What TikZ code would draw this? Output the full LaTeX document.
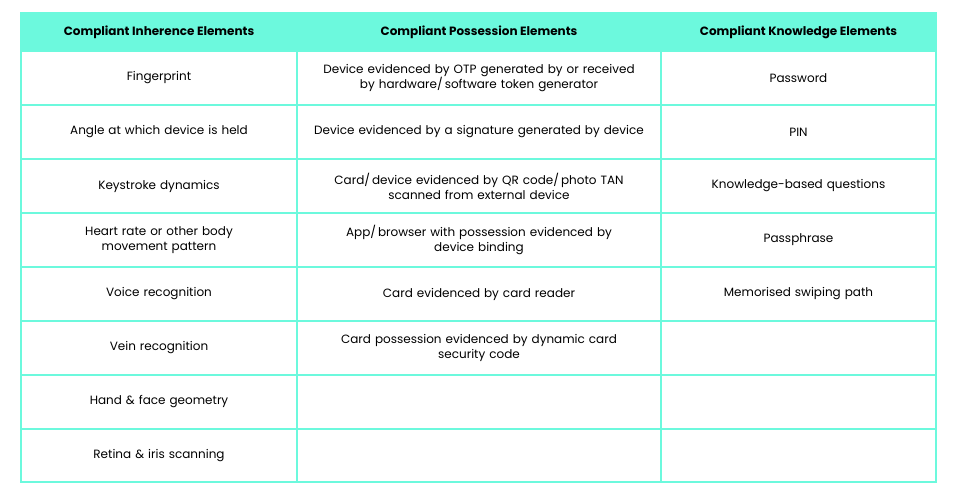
\documentclass[tikz,border=0pt]{standalone}
\usepackage{fontspec}
\setmainfont{Poppins}
\definecolor{aqua}{HTML}{6CF9DD}
\begin{document}
\begin{tikzpicture}[x=1pt,y=-1pt,
  cell/.style={align=center,font=\fontsize{12}{15}\selectfont,text width=#1},
  hd/.style={font=\fontsize{12}{15}\selectfont\bfseries}]
\useasboundingbox (0,0) rectangle (958,494);
\fill[white] (0,0) rectangle (958,494);
\fill[aqua] (21,13) rectangle (936,51);
\draw[aqua,line width=1.2pt] (21,13) rectangle (936,482);
\foreach \y in {51,105,159,213,267,321,375,429} \draw[aqua,line width=1.2pt] (21,\y) -- (936,\y);
\foreach \x in {297,661} \draw[aqua,line width=1.2pt] (\x,13) -- (\x,482);
\node[hd] (h1) at (159,32) {Compliant Inherence Elements};
\node[hd] (h2) at (479,32) {Compliant Possession Elements};
\node[hd] (h3) at (798.5,32) {Compliant Knowledge Elements};
\def\ra{78}\def\rb{132}
\node[cell=260pt] (a1) at (159,78) {Fingerprint};
\node[cell=260pt] (a2) at (159,132) {Angle at which device is held};
\node[cell=260pt] (a3) at (159,186) {Keystroke dynamics};
\node[cell=200pt] (a4) at (159,240) {Heart rate or other body movement pattern};
\node[cell=260pt] (a5) at (159,294) {Voice recognition};
\node[cell=260pt] (a6) at (159,348) {Vein recognition};
\node[cell=260pt] (a7) at (159,402) {Hand \& face geometry};
\node[cell=260pt] (a8) at (159,456) {Retina \& iris scanning};
\node[cell=340pt] (b1) at (479,78) {Device evidenced by OTP generated by or received\\by hardware/\,software token generator};
\node[cell=350pt] (b2) at (479,132) {Device evidenced by a signature generated by device};
\node[cell=340pt] (b3) at (479,186) {Card/\,device evidenced by QR code/\,photo TAN\\scanned from external device};
\node[cell=340pt] (b4) at (479,240) {App/\,browser with possession evidenced by\\device binding};
\node[cell=340pt] (b5) at (479,294) {Card evidenced by card reader};
\node[cell=340pt] (b6) at (479,348) {Card possession evidenced by dynamic card\\security code};
\node[cell=260pt] (c1) at (798.5,78) {Password};
\node[cell=260pt] (c2) at (798.5,132) {PIN};
\node[cell=260pt] (c3) at (798.5,186) {Knowledge-based questions};
\node[cell=260pt] (c4) at (798.5,240) {Passphrase};
\node[cell=260pt] (c5) at (798.5,294) {Memorised swiping path};
\end{tikzpicture}
\end{document}
